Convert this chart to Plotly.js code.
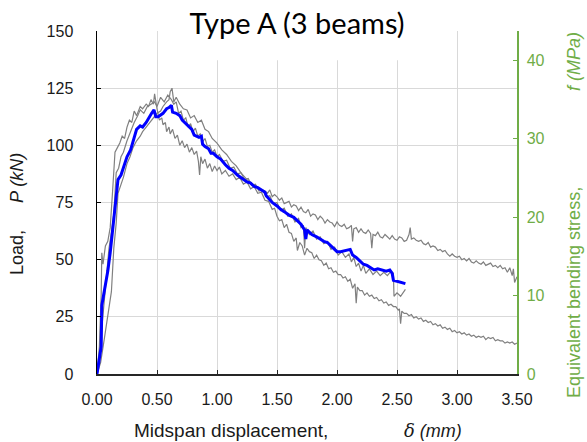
<!DOCTYPE html>
<html>
<head>
<meta charset="utf-8">
<script src="https://cdn.plot.ly/plotly-3.0.1.min.js"></script>
<style>html,body{margin:0;padding:0;background:#fff;}#chart{width:587px;height:442px;}</style>
</head>
<body>
<div id="chart"></div>
<script>
// Midspan displacement (mm) and load (kN) for the three tested beams and their average
const xBeam1 = [0,0.02,0.035,0.04,0.05,0.07,0.09,0.11,0.13,0.15,0.17,0.19,0.21,0.23,0.25,0.27,0.29,0.31,0.33,0.36,0.38,0.41,0.43,0.45,0.47,0.48,
  0.50,0.51,0.52,0.54,0.55,0.57,0.58,0.60,0.61,0.63,0.65,0.67,0.69,0.71,0.73,0.75,0.77,0.79,0.81,0.83,0.845,0.855,0.865,0.88,0.90,0.92,0.94,0.96,0.98,
  1.00,1.02,1.04,1.07,1.10,1.13,1.16,1.19,1.22,1.25,1.28,1.31,1.34,1.37,1.40,1.43,1.46,1.48,
  1.50,1.52,1.54,1.56,1.58,1.60,1.62,1.64,1.66,1.67,1.69,1.71,1.73,1.75,1.77,1.79,1.81,1.83,1.85,1.87,1.89,1.91,1.93,1.95,1.97,1.99,
  2.01,2.03,2.05,2.07,2.09,2.11,2.13,2.15,2.16,2.17,2.19,2.21,2.23,2.25,2.27,2.29,2.31,2.33,2.35,2.37,2.39,2.41,2.43,2.45,2.47,2.49,
  2.51,2.52,2.53,2.54,2.56,2.58,2.60,2.62,2.64,2.66,2.68,2.70,2.72,2.74,2.76,2.78,2.80,2.82,2.84,2.86,2.88,2.90,2.92,2.94,2.96,2.98,
  3.00,3.02,3.04,3.06,3.08,3.10,3.12,3.14,3.16,3.18,3.20,3.22,3.24,3.26,3.28,3.30,3.32,3.34,3.36,3.38,3.40,3.42,3.44,3.46,3.48,3.50];
const pBeam1 = [0,12,35,53,48,56,58,64,80,97,99,101,104,103,108,111,110,115,113,117,116,118,117,120,118,122.5,
  116,114,111,112,109,110,106,108,105,107,103,104.5,100,102,99,100.5,97,99,96,97.5,93,87,95,92,94,90,92,88.5,91,
  89,90.5,87.5,89,86.5,87.5,85,86,83,84,81,82,79,79.5,76,75.5,72,72.5,
  69,67,67.5,64,65.5,62,61.5,58,59.5,54,57.5,56,52,55,53.5,53,50.5,52,50,49.5,47.5,48.5,46,46.5,44.5,45,
  43.5,43.5,42,42.5,40.5,41.5,37.5,39.5,31,38,36.5,36.5,34.5,35.5,34,34.5,33,33.5,32,32.5,31,31.5,30,30.5,29.5,29.5,
  28,28.5,22,27.5,26.5,26.5,25.5,26,24.5,25,24,24.5,23,23.5,22.5,23,21.5,22,21,21.5,20,20.5,19.5,20,18.5,19,
  18,18.5,17.5,18,17,17.5,16.5,17,16,16.5,16,16.5,15,16,15.5,16,14.5,15,14.5,14.5,13.5,14,13.5,14,13,13.5];

const xBeam2 = [0,0.03,0.06,0.08,0.10,0.12,0.14,0.16,0.175,0.20,0.22,0.25,0.275,0.30,0.33,0.36,0.38,0.41,0.44,0.47,0.50,0.53,0.55,0.58,0.60,0.61,0.625,0.64,0.66,0.69,0.72,0.75,0.78,0.81,0.84,0.87,0.90,0.93,0.96,1.00,1.04,1.08,1.12,1.16,1.20,1.25,1.30,1.35,
  1.40,1.42,1.44,1.46,1.48,1.50,1.52,1.54,1.56,1.58,1.60,1.62,1.64,1.66,1.68,1.70,1.72,1.74,1.76,1.78,1.80,1.82,1.84,1.86,1.88,1.90,1.92,1.94,1.96,1.98,
  2.00,2.02,2.04,2.06,2.08,2.10,2.12,2.13,2.14,2.16,2.18,2.20,2.22,2.24,2.26,2.28,2.29,2.30,2.32,2.34,2.36,2.38,2.40,2.42,2.44,2.46,2.48,
  2.50,2.52,2.54,2.56,2.58,2.60,2.61,2.62,2.64,2.66,2.68,2.70,2.72,2.74,2.76,2.78,2.80,2.82,2.84,2.86,2.88,2.90,2.92,2.94,2.96,2.98,
  3.00,3.02,3.04,3.06,3.08,3.10,3.12,3.14,3.16,3.18,3.20,3.22,3.24,3.26,3.28,3.30,3.32,3.34,3.36,3.38,3.40,3.42,3.44,3.46,3.47,3.48,3.50];
const pBeam2 = [0,5,15,22,30,36,55,66,79,83,86,92,95,99,102,104,106,108,110,112,114,115,117,119,120,123.5,125,119,121,118,116,115.5,112,113,110,111,107,106,103,101,98,96,93,91,88,85,83,81,
  80,79,80.5,77.5,78.5,77.5,76,77,74.5,75,75.5,73,74,73.5,71.5,73,71,70.5,72,69,70,69.5,67.5,69,68,66,67.5,66.5,66,64.5,
  66.5,65,64.5,65.5,63.5,64,65,58,63.5,64,62,63.5,62,61.5,63,61.5,55,61,60.5,62,60,59.5,61,60,59,60.5,59,
  58.5,60,59.5,58,58.5,61,64,59,59.5,58.5,58,58.5,57,56.5,57.5,55.5,56,55.5,54,54.5,53.5,54,52.5,51.5,52.5,51.5,
  51,51.5,50,50.5,49.5,50.5,49,48.5,49.5,48.5,48,49,47.5,48,48.5,47,47.5,46.5,47.5,46,46.5,44.5,46.5,43,46,40,42.5];

const xBeam3 = [0,0.02,0.04,0.06,0.08,0.10,0.12,0.14,0.16,0.18,0.20,0.22,0.25,0.28,0.31,0.34,0.36,0.39,0.42,0.45,0.48,0.50,0.53,0.56,0.59,
  0.62,0.64,0.66,0.68,0.70,0.72,0.74,0.76,0.78,0.80,0.82,0.84,0.86,0.88,0.90,0.92,0.94,0.96,0.98,
  1.00,1.02,1.05,1.08,1.11,1.14,1.17,1.20,1.23,1.26,1.29,1.32,1.35,1.38,1.41,1.44,1.47,1.50,1.53,1.56,1.59,1.62,1.65,1.68,1.70,1.72,1.73,1.74,1.77,1.80,1.83,1.86,1.89,1.92,1.95,1.98,
  2.01,2.04,2.07,2.10,2.12,2.14,2.16,2.18,2.20,2.22,2.24,2.27,2.30,2.33,2.36,2.39,2.42,2.45,2.47,2.475,2.50,2.53,2.55,2.57];
const pBeam3 = [0,8,20,32,45,55,62,70,88,90,95,97,102,106,110,113,115.5,114,117,118,119,117,121,119,122,
  120,118,119,114,115,111,112,108,109.5,106,107.5,104,105,101.5,103,99.5,100,97,98,
  95,96,93,93.5,90,90.5,87.5,88,85,85.5,82.5,83,80,80.5,77.5,78,74.5,75,71.5,72.5,69,70,66.5,68,64,65,55,64,61,62.5,59,60,57,58,54.5,55.5,
  52,53.5,51,52.5,49,51,47,48.5,45,47.5,44,46,43.5,45,43,44.5,43,45,44,34,35.5,34,35.5,37];

const xAverage = [0,0.015,0.025,0.035,0.04,0.07,0.09,0.11,0.135,0.15,0.16,0.175,0.20,0.22,0.25,0.28,0.30,0.33,0.36,0.38,0.41,0.43,0.455,0.475,0.49,0.51,0.55,0.58,0.60,0.62,0.63,0.66,0.69,0.71,0.73,0.76,0.79,0.81,0.83,0.85,0.87,0.88,0.90,0.93,0.95,0.97,
  1.00,1.03,1.07,1.10,1.13,1.17,1.21,1.25,1.28,1.31,1.34,1.37,1.40,1.41,1.44,1.46,1.50,1.53,1.56,1.60,1.64,1.67,1.70,1.73,1.74,1.75,1.79,1.83,1.86,1.89,1.92,1.95,1.97,
  2.00,2.03,2.08,2.11,2.13,2.16,2.19,2.22,2.25,2.28,2.31,2.34,2.38,2.41,2.44,2.46,2.47,2.50,2.53,2.57];
const pAverage = [0,5,9,12,30,38,45,53,65,74,78,85,87,90,95,98,102,107,108.5,108,110,112,114,115.5,112.5,112.5,114,116,116.5,117.5,114.5,114,113,111,110,108.5,107,104.5,104,103.5,104,100.5,99.5,98.5,96.5,96.5,
  95,94,91.5,90,89,87,85.5,84,83.5,82,81.5,80.5,79.5,78,76,75,73.5,72,71,69.5,68.5,67,65.5,63,59,63,61,60,59,58,57.5,56,55,
  53.5,53.5,54,54.5,52,51,49.5,48,47.5,46.5,45.5,46,45.5,45,45.5,44,41,40.5,40,39.5];

const xTicks = [0,0.5,1,1.5,2,2.5,3,3.5];
const xTickLabels = ['0.00','0.50','1.00','1.50','2.00','2.50','3.00','3.50'];
const loadTicks = [0,25,50,75,100,125,150];
const stressTicks = [0,10,20,30,40];
const stressMax = 43.7; // MPa corresponding to 150 kN

const GREEN = '#70AD47';
const GRAY = '#808080';

const grayLine = {color: GRAY, width: 1.2};
const traces = [
  {x: xBeam1, y: pBeam1, type: 'scatter', mode: 'lines', line: grayLine, name: 'Beam 1', showlegend: false},
  {x: xBeam2, y: pBeam2, type: 'scatter', mode: 'lines', line: grayLine, name: 'Beam 2', showlegend: false},
  {x: xBeam3, y: pBeam3, type: 'scatter', mode: 'lines', line: grayLine, name: 'Beam 3', showlegend: false},
  {x: xAverage, y: pAverage, type: 'scatter', mode: 'lines', line: {color: '#0000FF', width: 3}, name: 'Average', showlegend: false},
  {x: [null], y: [null], yaxis: 'y2', type: 'scatter', mode: 'lines', showlegend: false, hoverinfo: 'skip'}
];

const tickFont = {family: 'Liberation Sans, Arial, sans-serif', size: 16, color: '#1a1a1a'};
const titleFont = {family: 'Liberation Sans, Arial, sans-serif', size: 18, color: '#1a1a1a'};
const xTitleFont = {family: 'Liberation Sans, Arial, sans-serif', size: 19, color: '#1a1a1a'};
const greenTitleFont = {family: 'Liberation Sans, Arial, sans-serif', size: 18, color: GREEN};

const layout = {
  width: 587, height: 442,
  paper_bgcolor: '#ffffff', plot_bgcolor: '#ffffff',
  margin: {l: 97, r: 70, t: 31, b: 68, pad: 0},
  showlegend: false,
  title: {text: 'Type A (3 beams)', font: {family: 'Lato, Noto Sans, sans-serif', size: 29, color: '#000000'},
          xref: 'container', yref: 'container', x: 0.506, y: 0.945, xanchor: 'center', yanchor: 'middle'},
  xaxis: {
    range: [0, 3.5], tickvals: xTicks, ticktext: xTickLabels,
    showgrid: true, gridcolor: '#d9d9d9', gridwidth: 1,
    showline: true, linecolor: '#262626', linewidth: 1.5,
    ticks: 'inside', ticklen: 4, tickcolor: '#262626',
    tickfont: tickFont, ticklabelstandoff: 10, zeroline: false, fixedrange: true
  },
  yaxis: {
    range: [0, 150], tickvals: loadTicks,
    showgrid: true, gridcolor: '#d9d9d9', gridwidth: 1,
    showline: true, linecolor: '#000000', linewidth: 1.5,
    ticks: 'inside', ticklen: 4, tickcolor: '#000000',
    tickfont: tickFont, ticklabelstandoff: 19, zeroline: false, fixedrange: true
  },
  yaxis2: {
    overlaying: 'y', side: 'right', range: [0, stressMax], tickvals: stressTicks,
    showgrid: false, showline: true, linecolor: GREEN, linewidth: 1.5,
    ticks: 'inside', ticklen: 4, tickcolor: GREEN,
    tickfont: {family: 'Liberation Sans, Arial, sans-serif', size: 16, color: GREEN},
    ticklabelstandoff: 5, zeroline: false, fixedrange: true
  },
  shapes: [
    {type: 'rect', xref: 'paper', yref: 'paper', x0: 0.145, x1: 0.827, y0: 0.915, y1: 1.05,
     fillcolor: '#ffffff', line: {width: 0}, layer: 'above'}
  ],
  annotations: [
    {text: 'Load,', xref: 'paper', yref: 'paper', x: (17-97)/420, y: (374-253)/343, textangle: -90,
     showarrow: false, font: titleFont, xanchor: 'center', yanchor: 'middle'},
    {text: '<i>P (kN)</i>', xref: 'paper', yref: 'paper', x: (17-97)/420, y: (374-178)/343, textangle: -90,
     showarrow: false, font: titleFont, xanchor: 'center', yanchor: 'middle'},
    {text: 'Midspan displacement,', xref: 'paper', yref: 'paper', x: (231-97)/420, y: (374-430)/343,
     showarrow: false, font: xTitleFont, xanchor: 'center', yanchor: 'middle'},
    {text: '<i><span style="font-family:DejaVu Serif, serif">δ</span> (mm)</i>', xref: 'paper', yref: 'paper', x: (433-97)/420, y: (374-430)/343,
     showarrow: false, font: titleFont, xanchor: 'center', yanchor: 'middle'},
    {text: 'Equivalent bending stress,', xref: 'paper', yref: 'paper', x: (574-97)/420, y: (374-293)/343, textangle: -90,
     showarrow: false, font: greenTitleFont, xanchor: 'center', yanchor: 'middle'},
    {text: '<i>f (MPa)</i>', xref: 'paper', yref: 'paper', x: (574-97)/420, y: (374-62)/343, textangle: -90,
     showarrow: false, font: greenTitleFont, xanchor: 'center', yanchor: 'middle'}
  ]
};

Plotly.newPlot('chart', traces, layout, {staticPlot: true, displayModeBar: false});
</script>
</body>
</html>
